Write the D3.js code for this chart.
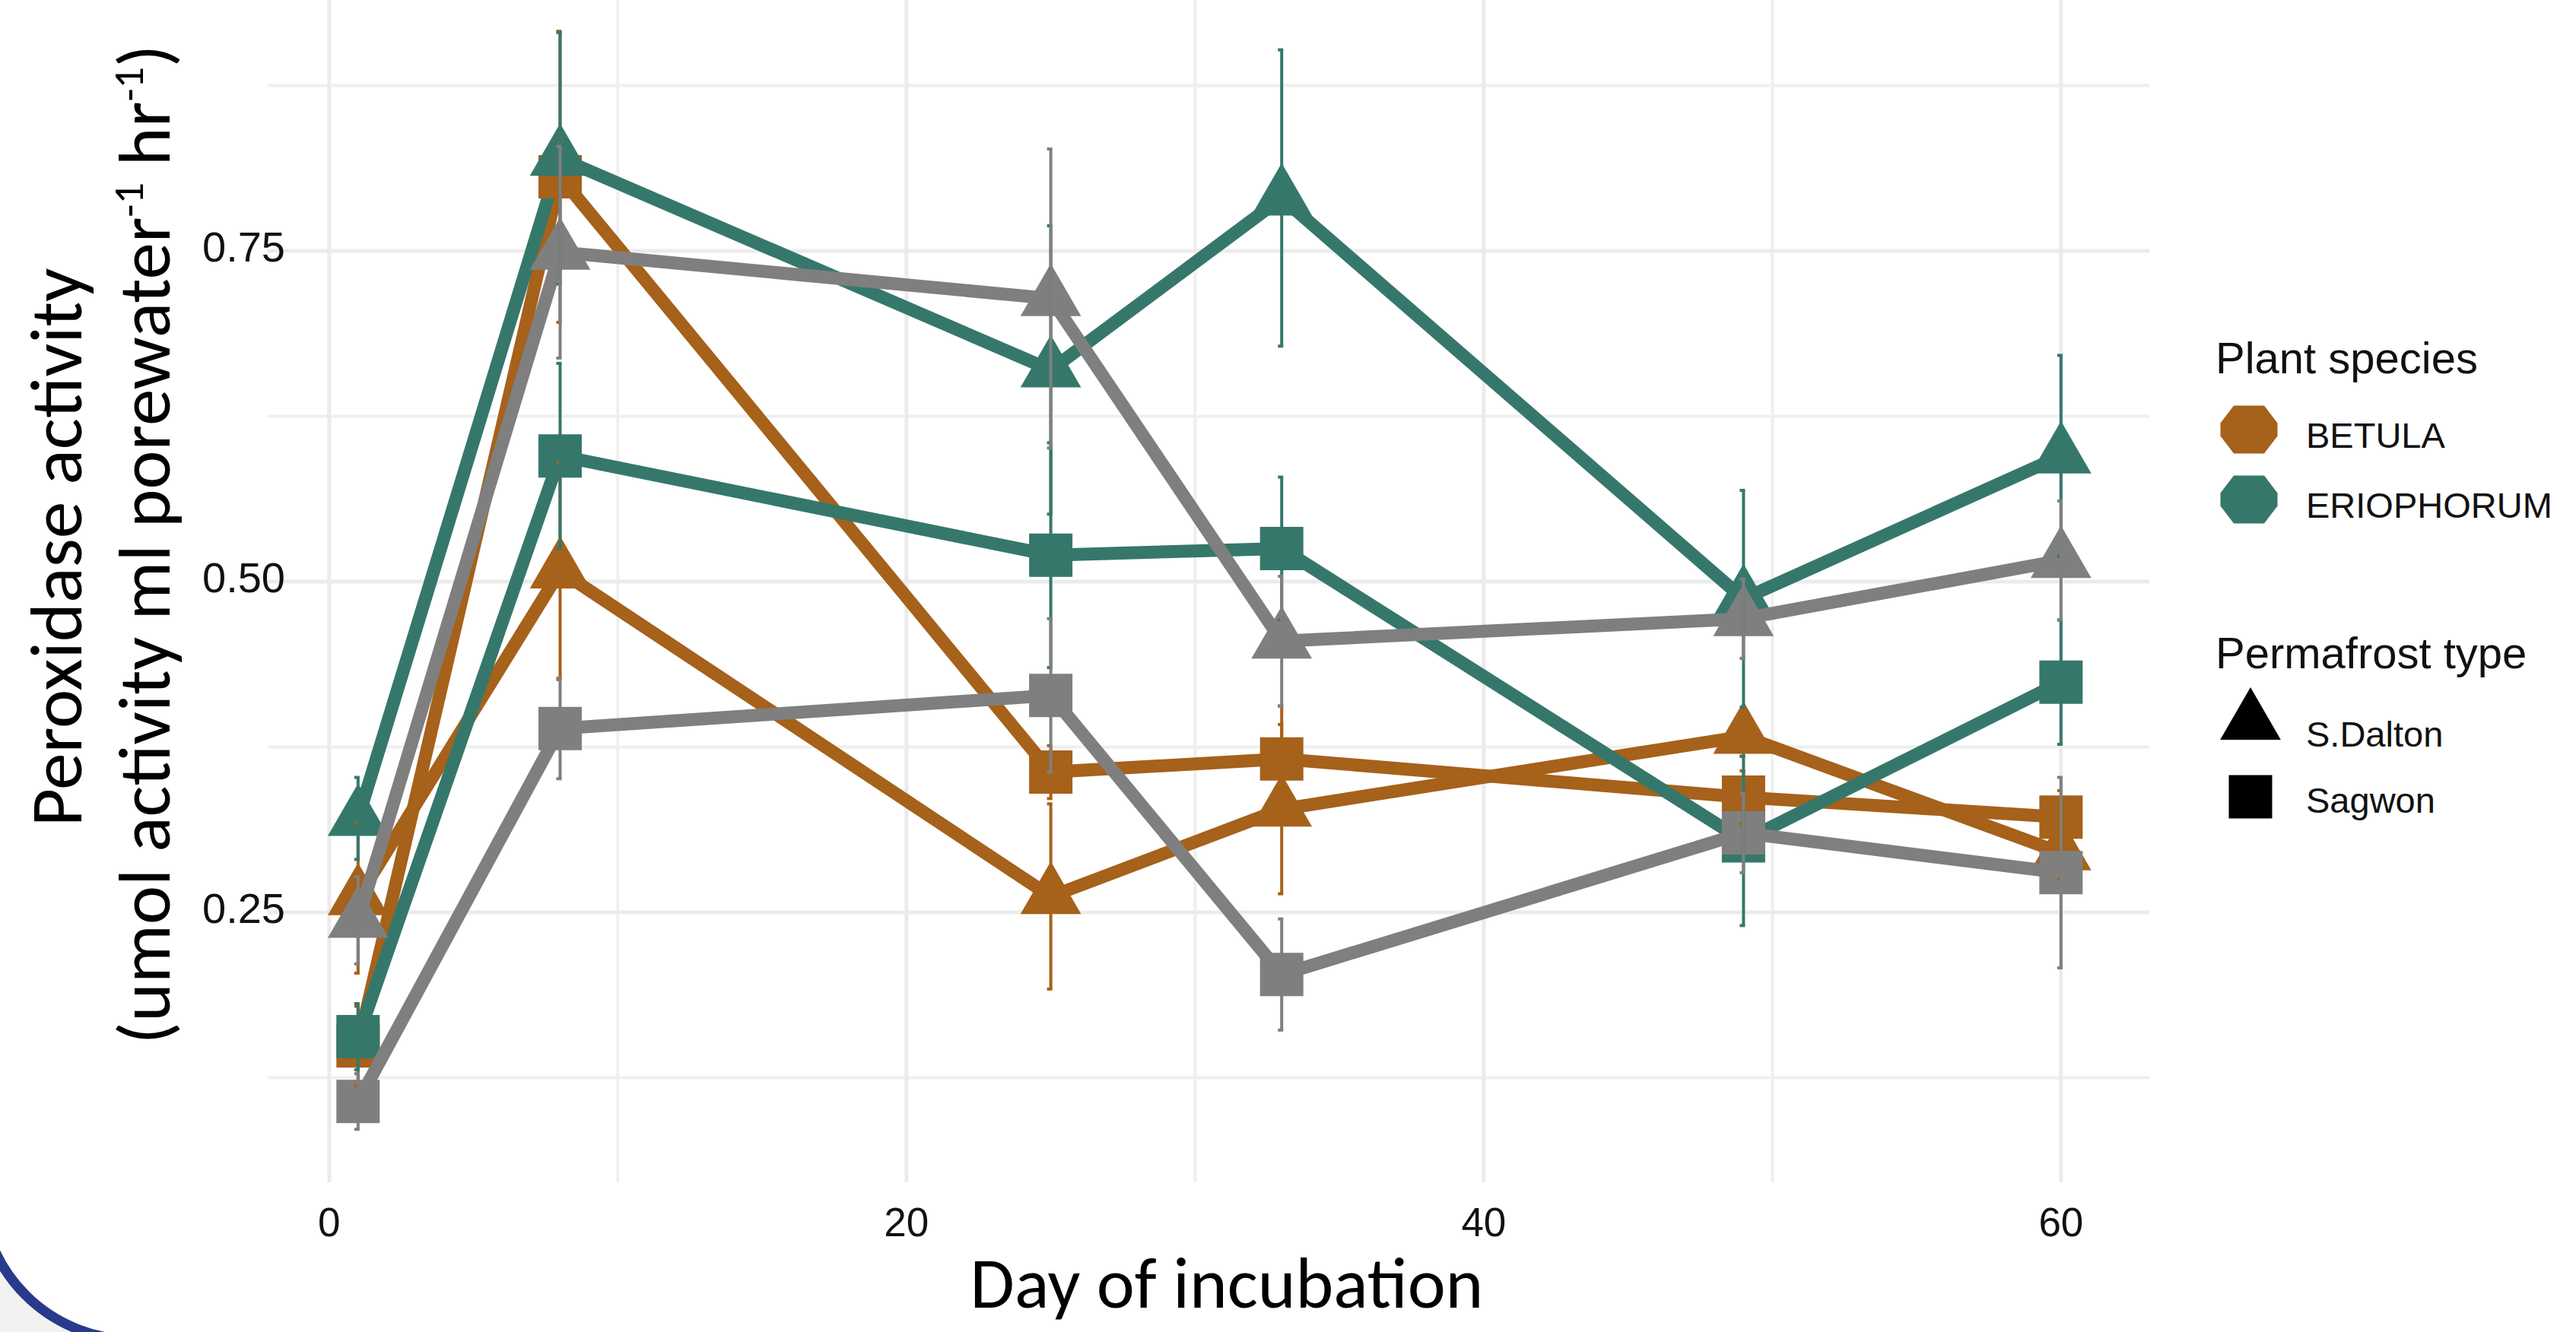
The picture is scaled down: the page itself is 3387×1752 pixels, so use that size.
<!DOCTYPE html>
<html lang="en">
<head>
<meta charset="UTF-8">
<title>Peroxidase activity</title>
<script src="https://cdn.jsdelivr.net/npm/d3@7"></script>
<style>
  html, body { margin: 0; padding: 0; background: #fff; }
  svg { display: block; }
</style>
</head>
<body>
<script>
// sampling days
const days = [1, 8, 25, 33, 49, 60];

// mean peroxidase activity
const betulaDalton  = [0.261, 0.508, 0.262, 0.328, 0.383, 0.295];
const betulaSagwon  = [0.149, 0.806, 0.356, 0.366, 0.337, 0.322];
const erioDalton    = [0.321, 0.820, 0.660, 0.790, 0.487, 0.595];
const erioSagwon    = [0.156, 0.595, 0.520, 0.525, 0.304, 0.424];
const controlDalton = [0.244, 0.749, 0.714, 0.455, 0.472, 0.516];
const controlSagwon = [0.107, 0.389, 0.414, 0.203, 0.310, 0.280];

// error bar half lengths
const betulaDaltonErr  = [0.057, 0.082, 0.070, 0.064, 0.015, 0.020];
const betulaSagwonErr  = [0.030, 0.110, 0.020, 0.040, 0.020, 0.020];
const erioDaltonErr    = [0.031, 0.095, 0.109, 0.112, 0.082, 0.076];
const erioSagwonErr    = [0.025, 0.070, 0.085, 0.054, 0.064, 0.047];
const controlDaltonErr = [0.033, 0.080, 0.113, 0.049, 0.030, 0.045];
const controlSagwonErr = [0.021, 0.038, 0.058, 0.042, 0.030, 0.072];

const xTicks = [0, 20, 40, 60];
const xMinor = [10, 30, 50];
const yTicks = [0.25, 0.50, 0.75];
const yMinor = [0.125, 0.375, 0.625, 0.875];
const speciesLabels = ["BETULA", "ERIOPHORUM"];
const permafrostLabels = ["S.Dalton", "Sagwon"];

const ORANGE = "#a6611a", TEAL = "#35786b", GREY = "#7f7f7f";

const series = [
  {values: betulaDalton,  err: betulaDaltonErr,  color: ORANGE, shape: "tri", ctrl: false},
  {values: betulaSagwon,  err: betulaSagwonErr,  color: ORANGE, shape: "sq",  ctrl: false},
  {values: erioDalton,    err: erioDaltonErr,    color: TEAL,   shape: "tri", ctrl: false},
  {values: erioSagwon,    err: erioSagwonErr,    color: TEAL,   shape: "sq",  ctrl: false},
  {values: controlDalton, err: controlDaltonErr, color: GREY,   shape: "tri", ctrl: true},
  {values: controlSagwon, err: controlSagwonErr, color: GREY,   shape: "sq",  ctrl: true}
];

const W = 3387, H = 1752;
const svg = d3.select("body").append("svg").attr("width", W).attr("height", H);

const x = d3.scaleLinear().domain([-2.13, 63.06]).range([352, 2826]);
const y = d3.scaleLinear().domain([0.25, 0.75]).range([1200, 330]);
const panelLeft = x.range()[0], panelRight = x.range()[1];
const panelTop = 0, panelBottom = 1555;

// grid
const grid = svg.append("g");
grid.selectAll(".hmin").data(yMinor).join("line")
  .attr("x1", panelLeft).attr("x2", panelRight)
  .attr("y1", d => y(d)).attr("y2", d => y(d))
  .attr("stroke", "#efefef").attr("stroke-width", 4);
grid.selectAll(".vmin").data(xMinor).join("line")
  .attr("y1", panelTop).attr("y2", panelBottom)
  .attr("x1", d => x(d)).attr("x2", d => x(d))
  .attr("stroke", "#efefef").attr("stroke-width", 4);
grid.selectAll(".hmaj").data(yTicks).join("line")
  .attr("x1", panelLeft).attr("x2", panelRight)
  .attr("y1", d => y(d)).attr("y2", d => y(d))
  .attr("stroke", "#ebebeb").attr("stroke-width", 5);
grid.selectAll(".vmaj").data(xTicks).join("line")
  .attr("y1", panelTop).attr("y2", panelBottom)
  .attr("x1", d => x(d)).attr("x2", d => x(d))
  .attr("stroke", "#ebebeb").attr("stroke-width", 5);

// tick labels
svg.append("g").selectAll("text").data(yTicks).join("text")
  .attr("x", 375).attr("y", d => y(d) + 14)
  .attr("text-anchor", "end")
  .attr("font-family", "Liberation Sans, Arial, sans-serif")
  .attr("font-size", 56).attr("fill", "#111")
  .text(d => d.toFixed(2));
svg.append("g").selectAll("text").data(xTicks).join("text")
  .attr("x", d => x(d)).attr("y", 1626)
  .attr("text-anchor", "middle")
  .attr("font-family", "Liberation Sans, Arial, sans-serif")
  .attr("font-size", 53).attr("fill", "#111")
  .text(d => d);

const line = d3.line().x((d, i) => x(days[i])).y(d => y(d));
const symTri = d3.symbol().type(d3.symbolTriangle).size(2750);
const symSq = d3.symbol().type(d3.symbolSquare).size(3249);

function drawLines(list) {
  svg.append("g").selectAll("path").data(list).join("path")
    .attr("d", s => line(s.values))
    .attr("fill", "none")
    .attr("stroke", s => s.color)
    .attr("stroke-width", 17)
    .attr("stroke-linejoin", "round");
}
function drawPoints(list) {
  list.forEach(s => {
    svg.append("g").selectAll("path").data(s.values).join("path")
      .attr("transform", (d, i) => `translate(${x(days[i])},${y(d)})`)
      .attr("d", s.shape === "tri" ? symTri : symSq)
      .attr("fill", s.color);
  });
}

const treated = series.filter(s => !s.ctrl);
const control = series.filter(s => s.ctrl);
drawLines(treated);
drawPoints(treated);
drawLines(control);
drawPoints(control);

// error bars
series.forEach(s => {
  const g = svg.append("g").attr("stroke", s.color).attr("stroke-width", 4);
  const pts = s.values.map((v, i) => ({day: days[i], lo: v - s.err[i], hi: v + s.err[i]}));
  g.selectAll(".bar").data(pts).join("line")
    .attr("x1", d => x(d.day)).attr("x2", d => x(d.day))
    .attr("y1", d => y(d.lo)).attr("y2", d => y(d.hi));
  g.selectAll(".capHi").data(pts).join("line")
    .attr("x1", d => x(d.day) - 5).attr("x2", d => x(d.day) + 2)
    .attr("y1", d => y(d.hi)).attr("y2", d => y(d.hi));
  g.selectAll(".capLo").data(pts).join("line")
    .attr("x1", d => x(d.day) - 5).attr("x2", d => x(d.day) + 2)
    .attr("y1", d => y(d.lo)).attr("y2", d => y(d.lo));
});

// axis titles
function fitWidth(sel, target) {
  const w = sel.node().getBBox().width;
  const fs = parseFloat(sel.attr("font-size"));
  sel.attr("font-size", fs * target / w);
}
const titleFont = "Carlito, Calibri, Lato, sans-serif";

const xTitle = svg.append("text")
  .attr("x", 1613).attr("y", 1720)
  .attr("text-anchor", "middle")
  .attr("font-family", titleFont).attr("font-size", 90).attr("fill", "#000")
  .text("Day of incubation");
fitWidth(xTitle, 675);

const yTitle1 = svg.append("text")
  .attr("transform", "translate(107,720) rotate(-90)")
  .attr("text-anchor", "middle")
  .attr("font-family", titleFont).attr("font-size", 90).attr("fill", "#000")
  .text("Peroxidase activity");
fitWidth(yTitle1, 735);

const yTitle2 = svg.append("text")
  .attr("transform", "translate(223,716) rotate(-90)")
  .attr("text-anchor", "middle")
  .attr("font-family", titleFont).attr("font-size", 90).attr("fill", "#000");
yTitle2.append("tspan").text("(umol activity ml porewater");
yTitle2.append("tspan").attr("font-size", "0.58em").attr("dy", "-0.62em").text("-1");
yTitle2.append("tspan").attr("dy", "0.36em").text(" hr");
yTitle2.append("tspan").attr("font-size", "0.58em").attr("dy", "-0.62em").text("-1");
yTitle2.append("tspan").attr("dy", "0.36em").text(")");
fitWidth(yTitle2, 1315);

// legend
const legFont = "Liberation Sans, Arial, sans-serif";
const leg = svg.append("g");
leg.append("text").attr("x", 2913).attr("y", 491)
  .attr("font-family", legFont).attr("font-size", 58).attr("fill", "#111")
  .text("Plant species");
const octagon = d3.line()([[-20, -31.5], [20, -31.5], [37.5, -8.5], [37.5, 8.5],
  [20, 31.5], [-20, 31.5], [-37.5, 8.5], [-37.5, -8.5]]) + "Z";
const spKeys = leg.selectAll(".sp").data(speciesLabels).join("g")
  .attr("transform", (d, i) => `translate(0,${565 + i * 92})`);
spKeys.append("path").attr("d", octagon)
  .attr("transform", "translate(2957,0)")
  .attr("fill", (d, i) => [ORANGE, TEAL][i]);
spKeys.append("text").attr("x", 3032).attr("y", 24)
  .attr("font-family", legFont).attr("font-size", 47).attr("fill", "#111")
  .text(d => d);

leg.append("text").attr("x", 2913).attr("y", 879)
  .attr("font-family", legFont).attr("font-size", 58).attr("fill", "#111")
  .text("Permafrost type");
const pfKeys = leg.selectAll(".pf").data(permafrostLabels).join("g")
  .attr("transform", (d, i) => `translate(0,${950 + i * 98})`);
pfKeys.append("path")
  .attr("transform", "translate(2959,0)")
  .attr("d", (d, i) => i === 0 ? symTri() : symSq())
  .attr("fill", "#000");
pfKeys.append("text").attr("x", 3032).attr("y", (d, i) => i === 0 ? 32 : 21)
  .attr("font-family", legFont).attr("font-size", 47).attr("fill", "#111")
  .text(d => d);

// slide frame corner (bottom left)
svg.append("path")
  .attr("d", "M -60 1300 L -25 1300 L -25 1562 A 200 200 0 0 0 175 1762 L 175 1800 L -60 1800 Z")
  .attr("fill", "#f2f2f2");
svg.append("path")
  .attr("d", "M -25 1300 L -25 1562 A 200 200 0 0 0 175 1762 L 700 1762")
  .attr("fill", "none").attr("stroke", "#2a3a8a").attr("stroke-width", 13);
</script>
</body>
</html>
